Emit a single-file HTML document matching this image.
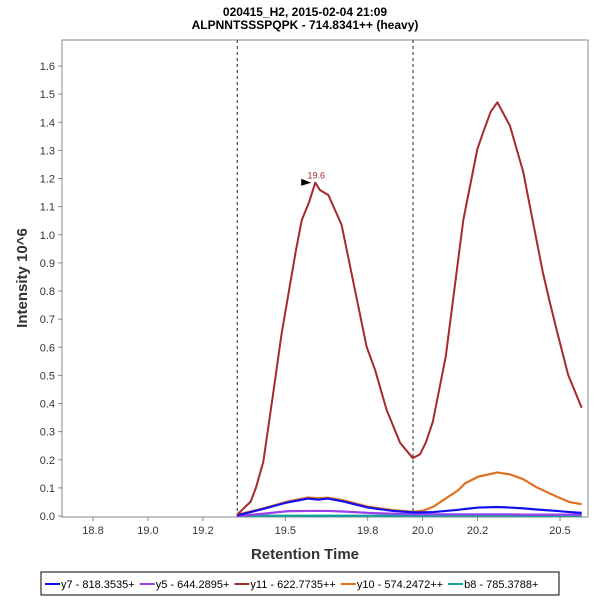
<!DOCTYPE html>
<html><head><meta charset="utf-8"><style>
body{margin:0;background:#fff;font-family:"Liberation Sans",sans-serif}
svg text{font-family:"Liberation Sans",sans-serif}
</style></head><body>
<svg id="c" width="600" height="600" xmlns="http://www.w3.org/2000/svg">
<text x="305" y="16" text-anchor="middle" font-size="12" font-weight="bold">020415_H2, 2015-02-04 21:09</text>
<text x="305" y="29" text-anchor="middle" font-size="12" font-weight="bold">ALPNNTSSSPQPK - 714.8341++ (heavy)</text>
<rect x="62" y="40" width="526" height="477" fill="#fff" stroke="#888"/>
<g id="axes"></g>
<g id="series"></g>
<text x="305" y="559" text-anchor="middle" font-size="15" font-weight="bold" fill="#333">Retention Time</text>
<text transform="translate(27,278) rotate(-90)" text-anchor="middle" font-size="15" font-weight="bold" fill="#333">Intensity 10^6</text>
<g>
<rect x="41" y="572" width="518" height="23" fill="#fff" stroke="#000"/>
<g id="legend"></g>
</g>
</svg>
<script>
const xTicks=[18.8,19.0,19.2,19.5,19.8,20.0,20.2,20.5];
const yTicks=[0.0,0.1,0.2,0.3,0.4,0.5,0.6,0.7,0.8,0.9,1.0,1.1,1.2,1.3,1.4,1.5,1.6];
const boundaries=[19.325,19.965];
const seriesNames=["y7 - 818.3535+","y5 - 644.2895+","y11 - 622.7735++","y10 - 574.2472++","b8 - 785.3788+"];
const seriesColors=["#1010f0","#9a40f0","#a52a2a","#e07020","#10a0a0"];
const rtRed=[19.324,19.374,19.393,19.420,19.456,19.487,19.539,19.560,19.587,19.609,19.626,19.657,19.705,19.796,19.827,19.869,19.918,19.964,19.990,20.012,20.037,20.084,20.148,20.199,20.221,20.248,20.272,20.318,20.366,20.437,20.461,20.488,20.530,20.579];
const valRed=[0.004,0.051,0.10,0.193,0.437,0.651,0.946,1.052,1.117,1.185,1.159,1.141,1.035,0.602,0.519,0.377,0.260,0.206,0.219,0.262,0.335,0.566,1.052,1.304,1.366,1.438,1.471,1.387,1.224,0.869,0.768,0.661,0.501,0.385];
const rtSmall=[19.324,19.419,19.506,19.583,19.619,19.655,19.710,19.801,19.892,19.964,20.002,20.039,20.130,20.154,20.203,20.272,20.318,20.366,20.415,20.488,20.536,20.579];
const valOrange=[0.004,0.027,0.051,0.066,0.063,0.065,0.056,0.033,0.021,0.015,0.019,0.033,0.092,0.116,0.140,0.155,0.148,0.131,0.102,0.069,0.049,0.042];
const valBlue=[0.002,0.025,0.048,0.062,0.058,0.062,0.052,0.030,0.018,0.013,0.013,0.014,0.022,0.025,0.030,0.032,0.030,0.027,0.023,0.018,0.014,0.011];
const valPurple=[0.0,0.008,0.017,0.018,0.018,0.018,0.016,0.011,0.008,0.006,0.006,0.006,0.006,0.006,0.006,0.006,0.006,0.005,0.005,0.005,0.005,0.005];
const valTeal=[0.001,0.001,0.001,0.001,0.001,0.001,0.001,0.001,0.001,0.001,0.001,0.001,0.001,0.001,0.001,0.001,0.001,0.001,0.001,0.001,0.001,0.001];
const peakRT=19.609, peakVal=1.185, peakLabel="19.6";

const NS="http://www.w3.org/2000/svg";
const xs=v=>93+(v-18.8)*274.7;
const ys=v=>516-v*281.25;
function mk(tag,attrs,parent){const e=document.createElementNS(NS,tag);for(const k in attrs)e.setAttribute(k,attrs[k]);parent.appendChild(e);return e;}
const axes=document.getElementById('axes');
xTicks.forEach(t=>{
  const g=mk('g',{},axes);
  
  
  mk('line',{x1:xs(t),x2:xs(t),y1:517,y2:521,stroke:'#888'},g);
  const tx=mk('text',{x:xs(t),y:534,'text-anchor':'middle','font-size':11,fill:'#333'},g);
  tx.textContent=t.toFixed(1);
});
yTicks.forEach(t=>{
  const g=mk('g',{},axes);
  
  
  mk('line',{x1:58,x2:62,y1:ys(t),y2:ys(t),stroke:'#888'},g);
  const tx=mk('text',{x:55,y:ys(t)+4,'text-anchor':'end','font-size':11,fill:'#333'},g);
  tx.textContent=t.toFixed(1);
});
boundaries.forEach(b=>{
  const l=mk('line',{x1:xs(b),x2:xs(b),y1:40,y2:517,stroke:'#222','stroke-dasharray':'3,3'},axes);
  
  
});
const ser=document.getElementById('series');
const defs=[[rtSmall,valTeal,4],[rtSmall,valPurple,1],[rtSmall,valOrange,3],[rtSmall,valBlue,0],[rtRed,valRed,2]];
defs.forEach(([rt,v,i])=>{
  const p=mk('polyline',{points:rt.map((r,j)=>xs(r)+','+ys(v[j])).join(' '),fill:'none',stroke:seriesColors[i],'stroke-width':i==2?2:2.2,'stroke-linejoin':'round'},ser);
  
  
});
const px=xs(peakRT),py=ys(peakVal);
const tri=mk('polygon',{points:(px-14)+','+(py-4)+' '+(px-4)+','+(py)+' '+(px-14)+','+(py+3),fill:'#000'},ser);


const pl=mk('text',{x:px+1,y:py-4,'text-anchor':'middle','font-size':9,fill:'#a52a2a'},ser);


pl.textContent=peakLabel;
const lg=document.getElementById('legend');
let lx=45;
seriesNames.forEach((n,i)=>{
  const g=mk('g',{},lg);
  
  
  mk('line',{x1:lx,x2:lx+15,y1:584,y2:584,stroke:seriesColors[i],'stroke-width':2},g);
  const t=mk('text',{x:lx+16,y:588,'font-size':11,fill:'#000'},g);
  t.textContent=n;
  lx+=16+t.getComputedTextLength()+5;
});
</script>
</body></html>
